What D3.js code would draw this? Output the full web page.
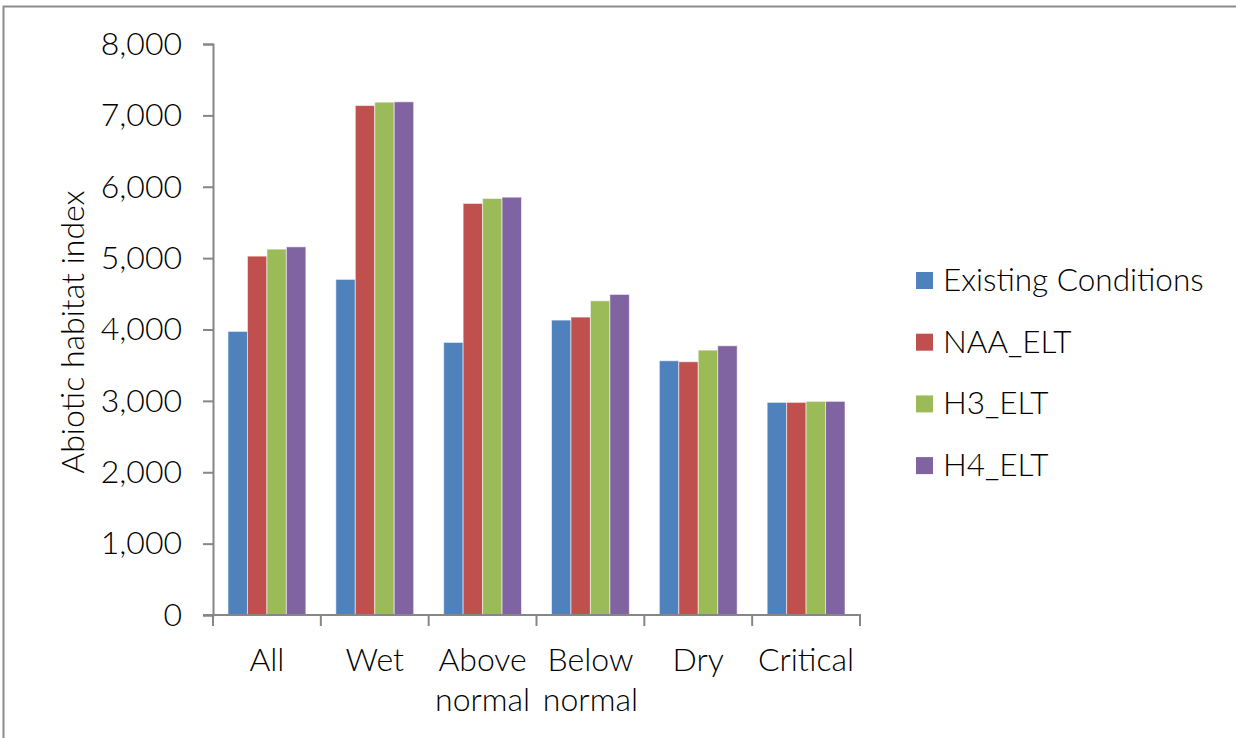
<!DOCTYPE html>
<html><head><meta charset="utf-8">
<script src="https://cdn.jsdelivr.net/npm/d3@7"></script>
<style>
html,body{margin:0;padding:0;background:#fff;}
svg text{font-family:"Lato","Open Sans",sans-serif;font-weight:300;fill:#000;}
</style></head>
<body><svg id="c" width="1236" height="738"></svg>
<script>
const categories = [["All"],["Wet"],["Above","normal"],["Below","normal"],["Dry"],["Critical"]];
const seriesNames = ["Existing Conditions","NAA_ELT","H3_ELT","H4_ELT"];
const existing = [3973, 4702, 3819, 4132, 3562, 2979];
const naa      = [5028, 7138, 5766, 4174, 3548, 2979];
const h3       = [5126, 7185, 5836, 4402, 3711, 2993];
const h4       = [5158, 7190, 5854, 4491, 3772, 2993];
const yTicks = [0,1000,2000,3000,4000,5000,6000,7000,8000];
const colors = ["#4F81BD","#C0504D","#9BBB59","#8064A2"];

const series = [existing, naa, h3, h4];
const svg = d3.select("#c");

// outer chart border (partially visible)
svg.append("path").attr("d","M3.5,738 V6.5 H1236").attr("fill","none").attr("stroke","#8c8c8c").attr("stroke-width",2);

const x0 = d3.scaleBand().domain(d3.range(categories.length)).range([213,860]).padding(0);
const x1 = d3.scaleBand().domain(d3.range(series.length)).range([15, x0.bandwidth()-15]).padding(0);
const y = d3.scaleLinear().domain([0,8000]).range([615,44]);

// bars
const g = svg.append("g");
categories.forEach((c,i)=>{
  series.forEach((s,j)=>{
    g.append("rect")
      .attr("x", x0(i)+x1(j))
      .attr("y", y(s[i]))
      .attr("width", x1.bandwidth())
      .attr("height", y(0)-y(s[i]))
      .attr("fill", colors[j])
      .attr("stroke","rgba(255,255,255,0.55)")
      .attr("stroke-width",1);
  });
});

// y axis
const yAxis = svg.append("g").attr("transform","translate(213,0)")
  .call(d3.axisLeft(y).tickValues(yTicks).tickSize(10).tickPadding(21).tickFormat(d3.format(",")));
yAxis.select(".domain").attr("stroke","#868686").attr("stroke-width",2);
yAxis.selectAll(".tick line").attr("stroke","#868686").attr("stroke-width",2);
yAxis.selectAll(".tick text").attr("font-size",32).style("font-family","Lato, 'Open Sans', sans-serif").style("font-weight",300);

// x axis
const xAxisG = svg.append("g").attr("transform","translate(0,615)");
xAxisG.append("line").attr("x1",203).attr("x2",861).attr("y1",0).attr("y2",0).attr("stroke","#868686").attr("stroke-width",2);
const xTickPos = d3.range(categories.length+1).map(i=> i<categories.length ? x0(i) : x0.range()[1]);
xAxisG.selectAll("line.t").data(xTickPos).enter().append("line").attr("class","t")
  .attr("x1",d=>d).attr("x2",d=>d).attr("y1",0).attr("y2",11).attr("stroke","#868686").attr("stroke-width",2);
categories.forEach((c,i)=>{
  const t = xAxisG.append("text").attr("text-anchor","middle").attr("font-size",32)
    .attr("x", x0(i)+x0.bandwidth()/2);
  c.forEach((line,k)=>{
    t.append("tspan").attr("x", x0(i)+x0.bandwidth()/2).attr("y", 56 + k*40).text(line);
  });
});

// y title
svg.append("text").attr("transform","translate(84,332) rotate(-90)").attr("text-anchor","middle")
  .attr("font-size",32).text("Abiotic habitat index");

// legend
const leg = svg.append("g");
seriesNames.forEach((n,i)=>{
  const cy = 280 + i*61.7;
  leg.append("rect").attr("x",916).attr("y",cy-8).attr("width",17).attr("height",17).attr("fill",colors[i]);
  leg.append("text").attr("x",943).attr("y",cy+11).attr("font-size",31.5).text(n);
});
</script></body></html>
